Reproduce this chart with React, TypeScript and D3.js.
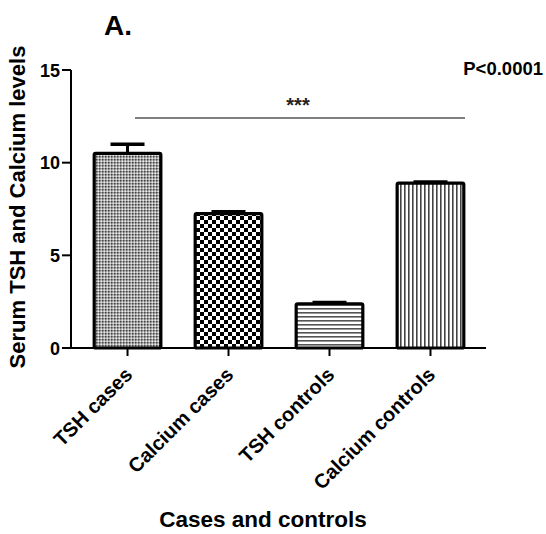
import React from "react";
import * as d3 from "d3";

const categories = ["TSH cases", "Calcium cases", "TSH controls", "Calcium controls"];
const means = [10.5, 7.25, 2.38, 8.9];
const errors = [0.5, 0.1, 0.08, 0.06];
const patterns = ["fine", "checker", "hlines", "vlines"];
const yTicks = [0, 5, 10, 15];

export default function App() {
  const W = 546, H = 534;
  const x = d3.scaleBand<string>().domain(categories).range([74, 484]).paddingInner(0.34).paddingOuter(0.2);
  const y = d3.scaleLinear().domain([0, 15]).range([348, 70]);
  const font = "'Liberation Sans', Arial, sans-serif";
  const fillFor = (p: string) => `url(#pat-${p})`;
  return (
    <svg width={W} height={H} style={{ position: "absolute", left: 0, top: 0 }} fontFamily={font}>
      <defs>
        <pattern id="pat-fine" width="3" height="3" patternUnits="userSpaceOnUse">
          <rect width="3" height="3" fill="#a8a8a8" />
          <rect width="1.5" height="1.5" fill="#444" />
          <rect x="1.5" y="1.5" width="1.5" height="1.5" fill="#e8e8e8" />
        </pattern>
        <pattern id="pat-checker" width="8" height="8" patternUnits="userSpaceOnUse">
          <rect width="8" height="8" fill="#fff" />
          <rect width="4" height="4" fill="#000" />
          <rect x="4" y="4" width="4" height="4" fill="#000" />
        </pattern>
        <pattern id="pat-hlines" width="4" height="4" patternUnits="userSpaceOnUse">
          <rect width="4" height="4" fill="#fff" />
          <rect y="0" width="4" height="1.6" fill="#555" />
        </pattern>
        <pattern id="pat-vlines" width="4" height="4" patternUnits="userSpaceOnUse">
          <rect width="4" height="4" fill="#fff" />
          <rect x="0" width="1.6" height="4" fill="#444" />
        </pattern>
      </defs>

      {/* bars */}
      {categories.map((c, i) => {
        const bx = x(c)!;
        const bw = x.bandwidth();
        const top = y(means[i]);
        const cx = bx + bw / 2;
        const et = y(means[i] + errors[i]);
        return (
          <g key={c}>
            <line x1={cx} x2={cx} y1={top} y2={et} stroke="#000" strokeWidth={3} />
            <line x1={cx - 17} x2={cx + 17} y1={et} y2={et} stroke="#000" strokeWidth={3.5} />
            <rect x={bx} y={top} width={bw} height={y(0) - top} fill={fillFor(patterns[i])} stroke="#000" strokeWidth={3.2} rx={1.5} />
          </g>
        );
      })}

      {/* y axis */}
      <line x1={71} x2={71} y1={y(15)} y2={y(0)} stroke="#000" strokeWidth={2} />
      {yTicks.map((t) => (
        <g key={t}>
          <line x1={62} x2={71} y1={y(t)} y2={y(t)} stroke="#000" strokeWidth={2} />
          <text x={60} y={y(t) + 6.5} textAnchor="end" fontSize={18} fontWeight="bold">{t}</text>
        </g>
      ))}
      {/* x axis */}
      <line x1={62} x2={486} y1={y(0)} y2={y(0)} stroke="#000" strokeWidth={2} />
      {categories.map((c) => {
        const cx = x(c)! + x.bandwidth() / 2;
        return (
          <g key={c}>
            <line x1={cx} x2={cx} y1={y(0)} y2={y(0) + 8} stroke="#000" strokeWidth={2} />
            <text transform={`translate(${cx + 6},${y(0) + 28}) rotate(-45)`} textAnchor="end" fontSize={20} fontWeight="bold">{c}</text>
          </g>
        );
      })}

      {/* significance */}
      <line x1={135} x2={465} y1={118} y2={118} stroke="#000" strokeWidth={1.2} />
      <text x={298} y={112} textAnchor="middle" fontSize={20} fontWeight="bold" fill="#222">***</text>
      <text x={543} y={75} textAnchor="end" fontSize={18.5} fontWeight="bold">P&lt;0.0001</text>
      <text x={104} y={35} fontSize={28} fontWeight="bold">A.</text>

      {/* axis titles */}
      <text transform={`translate(25,207) rotate(-90)`} textAnchor="middle" fontSize={22} fontWeight="bold">Serum TSH and Calcium levels</text>
      <text x={263} y={527} textAnchor="middle" fontSize={22.5} fontWeight="bold">Cases and controls</text>
    </svg>
  );
}
